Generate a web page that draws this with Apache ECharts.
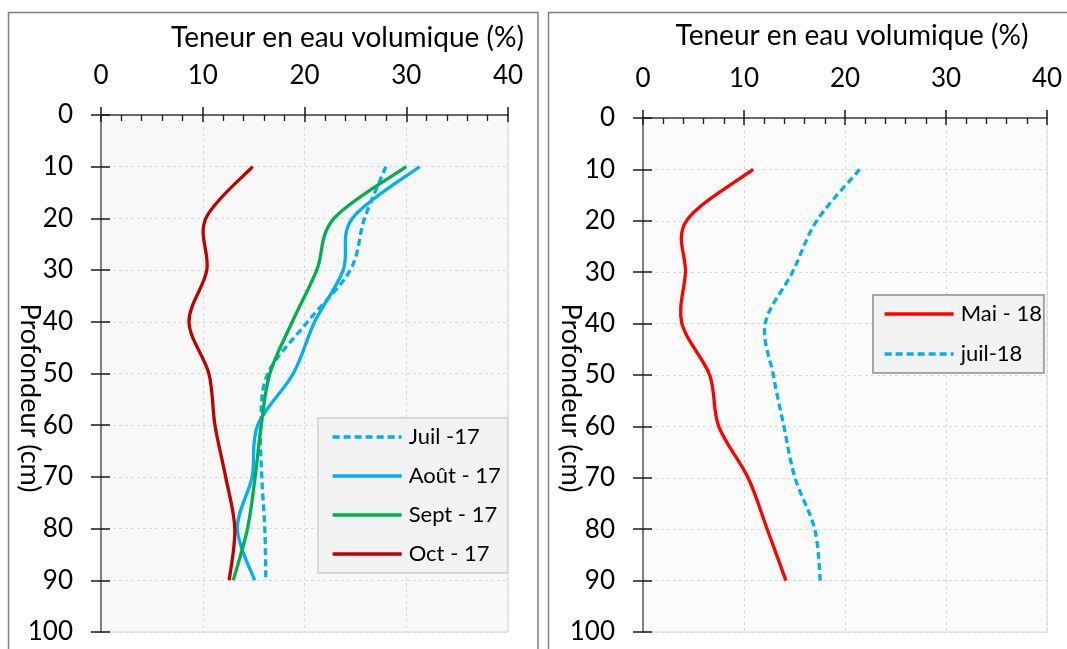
<!DOCTYPE html>
<html><head><meta charset="utf-8">
<script src="https://cdn.jsdelivr.net/npm/echarts@6/dist/echarts.min.js"></script>
<style>html,body{margin:0;padding:0;background:#fff}#c{width:1067px;height:649px}</style>
</head><body><div id="c"></div>
<script>
// Data (depth in cm, water content in %)
const depths = [10, 20, 30, 40, 50, 60, 70, 80, 90];
const juil17 = [28.0, 25.9, 24.5, 20.3, 16.4, 15.7, 15.8, 16.1, 16.2];
const aout17 = [31.3, 24.7, 23.8, 21.0, 18.9, 15.4, 14.85, 13.4, 15.1];
const sept17 = [30.0, 22.9, 21.2, 18.8, 16.6, 15.75, 15.15, 14.4, 13.0];
const oct17  = [14.9, 10.3, 10.4, 8.65, 10.6, 11.2, 12.25, 13.15, 12.6];
const mai18  = [10.9, 4.3, 4.2, 3.85, 6.6, 7.5, 10.4, 12.3, 14.15];
const juil18 = [21.45, 17.2, 14.8, 12.1, 12.9, 13.95, 15.05, 17.0, 17.55];
const xTicks = [0, 10, 20, 30, 40];
const yTicks = [0, 10, 20, 30, 40, 50, 60, 70, 80, 90, 100];
const xTitle = 'Teneur en eau volumique (%)';
const yTitle = 'Profondeur (cm)';

const FONT = 'Lato';
const TXT = '#000000';
const pairs = vals => vals.map((v, i) => [v, depths[i]]);

function xAxes(g) {
  const base = {type: 'value', gridIndex: g, position: 'top', min: xTicks[0], max: xTicks[xTicks.length - 1], interval: 10};
  return [
    Object.assign({}, base, {
      axisLine: {show: true, onZero: false, lineStyle: {color: '#404040', width: 1.5}},
      axisTick: {show: true, inside: false, length: 8, lineStyle: {color: '#1a1a1a', width: 1.5}},
      axisLabel: {margin: 26, fontSize: 26, color: TXT, fontFamily: FONT},
      splitLine: {show: true, lineStyle: {color: '#d9d9d9', type: [3, 3], width: 1}}
    }),
    Object.assign({}, base, {
      axisLine: {show: false, onZero: false},
      axisTick: {show: true, inside: true, length: 7, lineStyle: {color: '#1a1a1a', width: 1.5}},
      minorTick: {show: true, splitNumber: 5, length: 6, lineStyle: {color: '#1a1a1a', width: 1.3}},
      axisLabel: {show: false},
      splitLine: {show: false}
    })
  ];
}
function yAxes(g) {
  const base = {type: 'value', gridIndex: g, position: 'left', inverse: true, min: yTicks[0], max: yTicks[yTicks.length - 1], interval: 10};
  return [
    Object.assign({}, base, {
      axisLine: {show: true, onZero: false, lineStyle: {color: '#7f7f7f', width: 2}},
      axisTick: {show: true, inside: false, length: 10, lineStyle: {color: '#1a1a1a', width: 1.5}},
      axisLabel: {margin: 28, fontSize: 26, color: TXT, fontFamily: FONT},
      splitLine: {show: true, lineStyle: {color: '#d9d9d9', type: [3, 3], width: 1}}
    }),
    Object.assign({}, base, {
      axisLine: {show: false, onZero: false},
      axisTick: {show: true, inside: true, length: 9, lineStyle: {color: '#1a1a1a', width: 1.5}},
      axisLabel: {show: false},
      splitLine: {show: false}
    })
  ];
}
const LW = 3.3;
const DASH = [7, 4];
// Legend-only line series (style carrier for the legend icon)
function legendLine(name, color, xi, yi, dashed) {
  return {
    name, type: 'line', xAxisIndex: xi, yAxisIndex: yi, data: [],
    symbol: 'none', silent: true,
    lineStyle: {color, width: LW, type: dashed ? DASH : 'solid'},
    itemStyle: {color}
  };
}
// Excel-like smoothed curve (Catmull-Rom) drawn through the axes' scales
function curve(name, vals, color, xi, yi, dashed) {
  return {
    name: name + ' (courbe)', type: 'custom', xAxisIndex: xi, yAxisIndex: yi,
    data: pairs(vals), silent: true, clip: false,
    encode: {x: 0, y: 1},
    renderItem: function (params, api) {
      if (params.dataIndex !== 0) return null;
      const p = vals.map((v, i) => api.coord([v, depths[i]]));
      const n = p.length;
      let d = 'M' + p[0][0] + ' ' + p[0][1];
      for (let i = 0; i < n - 1; i++) {
        const p0 = p[Math.max(i - 1, 0)], p1 = p[i], p2 = p[i + 1], p3 = p[Math.min(i + 2, n - 1)];
        const c1x = p1[0] + (p2[0] - p0[0]) / 6, c1y = p1[1] + (p2[1] - p0[1]) / 6;
        const c2x = p2[0] - (p3[0] - p1[0]) / 6, c2y = p2[1] - (p3[1] - p1[1]) / 6;
        d += ' C' + c1x + ' ' + c1y + ' ' + c2x + ' ' + c2y + ' ' + p2[0] + ' ' + p2[1];
      }
      return {
        type: 'path', shape: {pathData: d},
        style: {fill: 'none', stroke: color, lineWidth: LW, lineDash: dashed ? DASH : null, lineCap: 'butt', lineJoin: 'round'}
      };
    }
  };
}
const legendCommon = {
  orient: 'vertical', itemWidth: 69, itemHeight: 22, itemGap: 17,
  backgroundColor: '#f2f2f2', borderWidth: 2,
  itemStyle: {opacity: 0, color: 'transparent', borderWidth: 0},
  lineStyle: {width: LW},
  textStyle: {fontSize: 22, fontFamily: FONT, color: TXT, lineHeight: 22, padding: [0, 0, 0, 2]}
};

const chart = echarts.init(document.getElementById('c'), null, {renderer: 'canvas'});
chart.setOption({
  animation: false,
  backgroundColor: '#ffffff',
  grid: [
    {left: 101, top: 115, width: 407, height: 517, show: true, backgroundColor: '#f8f8f8', borderColor: '#d9d9d9', borderWidth: 1},
    {left: 643, top: 118, width: 404, height: 514, show: true, backgroundColor: '#fbfbfb', borderColor: '#d9d9d9', borderWidth: 1}
  ],
  xAxis: [...xAxes(0), ...xAxes(1)],
  yAxis: [...yAxes(0), ...yAxes(1)],
  legend: [
    Object.assign({}, legendCommon, {data: ['Juil -17', 'Août - 17', 'Sept - 17', 'Oct - 17'], left: 318, top: 418, padding: [8, 7, 8, 13], borderColor: '#d9d9d9'}),
    Object.assign({}, legendCommon, {data: ['Mai - 18', 'juil-18'], left: 873, top: 295, padding: [8, 2, 8, 10], itemGap: 18, borderColor: '#a6a6a6'})
  ],
  series: [
    legendLine('Juil -17', '#00B0F0', 0, 0, true),
    legendLine('Août - 17', '#00B0F0', 0, 0, false),
    legendLine('Sept - 17', '#00B050', 0, 0, false),
    legendLine('Oct - 17', '#C00000', 0, 0, false),
    legendLine('Mai - 18', '#FF0000', 2, 2, false),
    legendLine('juil-18', '#00B0F0', 2, 2, true),
    curve('Juil -17', juil17, '#00B0F0', 0, 0, true),
    curve('Août - 17', aout17, '#00B0F0', 0, 0, false),
    curve('Sept - 17', sept17, '#00B050', 0, 0, false),
    curve('Oct - 17', oct17, '#C00000', 0, 0, false),
    curve('Mai - 18', mai18, '#FF0000', 2, 2, false),
    curve('juil-18', juil18, '#00B0F0', 2, 2, true)
  ],
  graphic: [
    {type: 'rect', shape: {x: 8.5, y: 12.5, width: 529.5, height: 700}, style: {fill: 'none', stroke: '#7f7f7f', lineWidth: 1.5}, z: -10},
    {type: 'rect', shape: {x: 548.5, y: 12.5, width: 600, height: 700}, style: {fill: 'none', stroke: '#7f7f7f', lineWidth: 1.5}, z: -10},
    {type: 'text', x: 347.5, y: 38, style: {text: xTitle, fontSize: 28, fontFamily: FONT, fill: TXT, textAlign: 'center', textVerticalAlign: 'middle'}},
    {type: 'text', x: 852, y: 36, style: {text: xTitle, fontSize: 28, fontFamily: FONT, fill: TXT, textAlign: 'center', textVerticalAlign: 'middle'}},
    {type: 'text', x: 30, y: 398, rotation: -Math.PI / 2, style: {text: yTitle, fontSize: 27, fontFamily: FONT, fill: TXT, textAlign: 'center', textVerticalAlign: 'middle'}},
    {type: 'text', x: 571, y: 398, rotation: -Math.PI / 2, style: {text: yTitle, fontSize: 27, fontFamily: FONT, fill: TXT, textAlign: 'center', textVerticalAlign: 'middle'}}
  ]
});
</script>
</body></html>
